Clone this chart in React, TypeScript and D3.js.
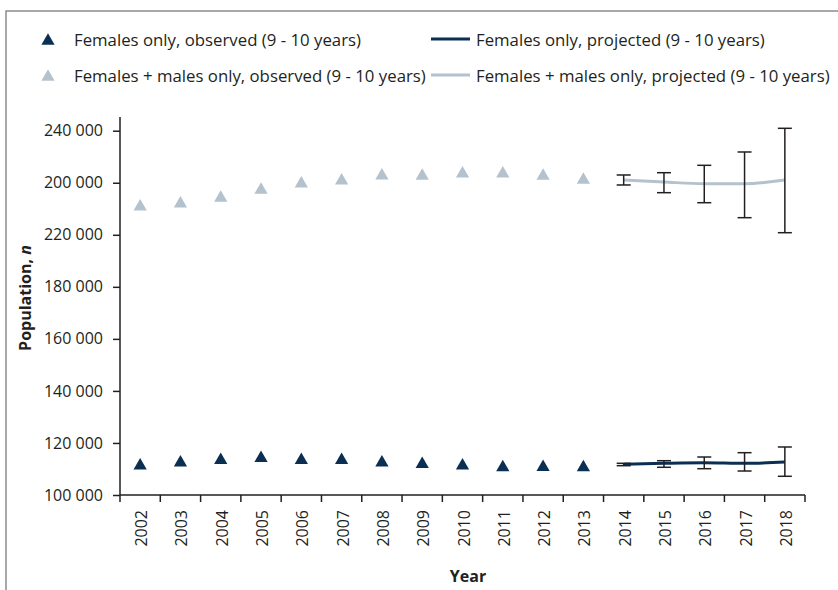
import { useEffect, useRef } from "react";
import * as d3 from "d3";

// Years on the category axis
const YEARS = [
  "2002", "2003", "2004", "2005", "2006", "2007", "2008", "2009", "2010",
  "2011", "2012", "2013", "2014", "2015", "2016", "2017", "2018",
];

// Observed values (2002 - 2013)
const OBS_YEARS = YEARS.slice(0, 12);
const FEMALES_OBS = [
  111990, 113180, 114140, 114870, 114140, 114140, 113180, 112600, 112030, 111340, 111400, 111340,
];
const ALL_OBS = [
  211560, 212700, 214900, 218000, 220400, 221550, 223440, 223360, 224250, 224250, 223360, 221820,
];

// Projected values (2014 - 2018) with lower / upper bounds
const PROJ_YEARS = YEARS.slice(12);
const FEMALES_PROJ = [111800, 112180, 112410, 112180, 112680];
const FEMALES_LOW = [111260, 110650, 110110, 109220, 107190];
const FEMALES_HIGH = [112180, 113180, 114600, 116260, 118450];
const ALL_PROJ = [221060, 220290, 219640, 219640, 221060];
const ALL_LOW = [219140, 216180, 212330, 206570, 200800];
const ALL_HIGH = [222980, 223860, 226700, 231820, 240920];

// y ticks (labels exactly as printed on the original)
const Y_TICKS = [100000, 120000, 140000, 160000, 180000, 200000, 220000, 240000];
const Y_TICK_LABELS = [
  "100 000", "120 000", "140 000", "160 000", "180 000", "220 000", "200 000", "240 000",
];

const DARK = "#0b2f52";
const LIGHT = "#b4c2ce";
const INK = "#231f20";
const FONT = "'Open Sans', sans-serif";

export default function App() {
  const svgRef = useRef<SVGSVGElement>(null);

  useEffect(() => {
    const width = 838;
    const height = 590;
    const svg = d3.select(svgRef.current);
    svg.selectAll("*").remove();
    svg.attr("width", width).attr("height", height);

    // outer frame
    svg.append("path")
      .attr("d", `M6,${height + 2}V11H${width + 2}`)
      .attr("fill", "none")
      .attr("stroke", "#8c8c8c")
      .attr("stroke-width", 1.5);

    // ----- Scales -----
    const x = d3.scaleBand().domain(YEARS).range([120, 805]).padding(0);
    const y = d3.scaleLinear().domain([100000, 240000]).range([495, 130.7]);
    const cx = (yr: string) => (x(yr) ?? 0) + x.bandwidth() / 2;

    // ----- Axes -----
    const yAxis = svg.append("g")
      .attr("transform", "translate(120,0)")
      .call(
        d3.axisLeft(y)
          .tickValues(Y_TICKS)
          .tickFormat((_d, i) => Y_TICK_LABELS[i])
          .tickSize(7)
          .tickSizeOuter(0)
      );
    yAxis.select(".domain").remove();
    yAxis.append("line")
      .attr("x1", 0).attr("x2", 0)
      .attr("y1", 117).attr("y2", 495)
      .attr("stroke", INK).attr("stroke-width", 1.5);
    yAxis.selectAll(".tick line").attr("stroke", INK).attr("stroke-width", 1.5);
    yAxis.selectAll(".tick text")
      .attr("x", -17)
      .attr("fill", INK)
      .attr("font-family", FONT)
      .attr("font-size", 16);

    const xAxis = svg.append("g").attr("transform", "translate(0,495)");
    xAxis.append("line")
      .attr("x1", 120).attr("x2", 805)
      .attr("stroke", INK).attr("stroke-width", 1.5);
    const bounds = [...YEARS.map((d) => x(d) ?? 0), 805];
    xAxis.selectAll(".xt").data(bounds).join("line")
      .attr("x1", (d) => d).attr("x2", (d) => d)
      .attr("y1", 0).attr("y2", 7)
      .attr("stroke", INK).attr("stroke-width", 1.5);
    xAxis.selectAll(".xl").data(YEARS).join("text")
      .attr("transform", (d) => `translate(${cx(d) + 1},15) rotate(-90)`)
      .attr("text-anchor", "end")
      .attr("dominant-baseline", "central")
      .attr("font-family", FONT)
      .attr("font-size", 16)
      .attr("fill", INK)
      .text((d) => d);

    // axis titles
    svg.append("text")
      .attr("x", 468).attr("y", 582)
      .attr("text-anchor", "middle")
      .attr("font-family", FONT)
      .attr("font-weight", "bold")
      .attr("font-size", 16)
      .attr("fill", INK)
      .text("Year");

    const yt = svg.append("text")
      .attr("transform", "translate(31,298) rotate(-90)")
      .attr("text-anchor", "middle")
      .attr("font-family", FONT)
      .attr("font-weight", "bold")
      .attr("font-size", 16)
      .attr("fill", INK);
    yt.append("tspan").text("Population, ");
    yt.append("tspan").attr("font-style", "italic").text("n");

    // ----- Observed triangles -----
    const triSize = 76;
    const tri = d3.symbol(d3.symbolTriangle, triSize)();
    const triOff = Math.sqrt(triSize / (3 * Math.sqrt(3))) / 2; // centroid -> box centre

    const drawObs = (vals: number[], color: string) => {
      svg.append("g").selectAll("path").data(vals).join("path")
        .attr("d", tri)
        .attr("fill", color)
        .attr("transform", (d, i) => `translate(${cx(OBS_YEARS[i])},${y(d) + triOff})`);
    };
    drawObs(ALL_OBS, LIGHT);
    drawObs(FEMALES_OBS, DARK);

    // ----- Projected lines -----
    const line = d3.line<number>()
      .x((_d, i) => cx(PROJ_YEARS[i]))
      .y((d) => y(d))
      .curve(d3.curveMonotoneX);

    const drawProj = (vals: number[], lo: number[], hi: number[], color: string) => {
      svg.append("path")
        .datum(vals)
        .attr("fill", "none")
        .attr("stroke", color)
        .attr("stroke-width", 3)
        .attr("d", line);
      const g = svg.append("g").attr("stroke", INK).attr("stroke-width", 1.5);
      PROJ_YEARS.forEach((yr, i) => {
        const px = cx(yr);
        g.append("line").attr("x1", px).attr("x2", px).attr("y1", y(lo[i])).attr("y2", y(hi[i]));
        g.append("line").attr("x1", px - 7).attr("x2", px + 7).attr("y1", y(lo[i])).attr("y2", y(lo[i]));
        g.append("line").attr("x1", px - 7).attr("x2", px + 7).attr("y1", y(hi[i])).attr("y2", y(hi[i]));
      });
    };
    drawProj(ALL_PROJ, ALL_LOW, ALL_HIGH, LIGHT);
    drawProj(FEMALES_PROJ, FEMALES_LOW, FEMALES_HIGH, DARK);

    // ----- Legend -----
    const legendItems = [
      { kind: "tri", color: DARK, label: "Females only, observed (9 - 10 years)", lx: 48, ly: 39 },
      { kind: "tri", color: LIGHT, label: "Females + males only, observed (9 - 10 years)", lx: 48, ly: 75 },
      { kind: "line", color: DARK, label: "Females only, projected (9 - 10 years)", lx: 450, ly: 39 },
      { kind: "line", color: LIGHT, label: "Females + males only, projected (9 - 10 years)", lx: 450, ly: 75 },
    ];
    legendItems.forEach((it) => {
      const row = svg.append("g").attr("transform", `translate(${it.lx},${it.ly})`);
      if (it.kind === "tri") {
        row.append("path").attr("d", tri).attr("fill", it.color)
          .attr("transform", `translate(0,${triOff})`);
      } else {
        row.append("line")
          .attr("x1", -19).attr("x2", 20).attr("y1", 0).attr("y2", 0)
          .attr("stroke", it.color).attr("stroke-width", 3);
      }
      row.append("text")
        .attr("x", 26).attr("y", 0)
        .attr("dominant-baseline", "central")
        .attr("font-family", FONT).attr("font-size", 16.8).attr("fill", INK)
        .text(it.label);
    });
  }, []);

  return (
    <div style={{ position: "absolute", left: 0, top: 0 }}>
      <svg ref={svgRef} style={{ display: "block", background: "#fff" }}></svg>
    </div>
  );
}
